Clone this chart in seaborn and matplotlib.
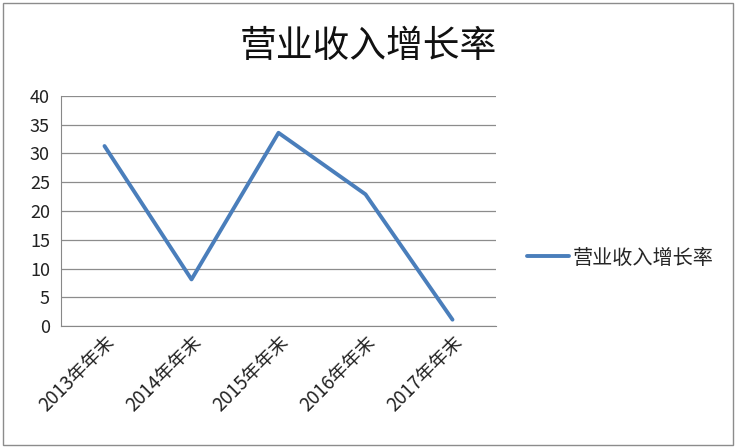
import pandas as pd
import matplotlib.pyplot as plt
import seaborn as sns
from matplotlib.patches import Rectangle

# Données
annees = ['2013年年末', '2014年年末', '2015年年末', '2016年年末', '2017年年末']
croissance = [31.3, 8.1, 33.6, 22.9, 1.1]
serie = '营业收入增长率'

df = pd.DataFrame({'annee': annees, 'taux': croissance})

sns.set_style('white')
plt.rcParams['font.family'] = ['Noto Sans CJK SC', 'DejaVu Sans']

fig = plt.figure(figsize=(7.36, 4.48), dpi=100)
ax = fig.add_axes([61 / 736, 1 - 326 / 448, (496 - 61) / 736, (326 - 96) / 448])

# bordure extérieure du graphique
fig.patches.append(Rectangle((3 / 736, 3 / 448), 730 / 736, 442 / 448, transform=fig.transFigure,
                             fill=False, edgecolor='#8c8c8c', linewidth=1))

x = list(range(len(annees)))
sns.lineplot(x=x, y=df['taux'], ax=ax, color='#4a7ebb', linewidth=2.8, label=serie)

ax.set_xlim(-0.5, len(annees) - 0.5)
ax.set_ylim(0, 40)
ax.set_yticks(range(0, 41, 5))
ax.set_xticks([i - 0.5 for i in range(len(annees) + 1)], minor=False)
ax.set_xticklabels([])
ax.set_xticks(x, minor=True)
ax.set_xticklabels(annees, minor=True, rotation=45, ha='right', rotation_mode='anchor',
                   fontsize=13.5, color='#222222')
ax.tick_params(axis='x', which='minor', length=0, pad=4)
ax.tick_params(axis='x', which='major', length=5, color='#888888', direction='out')
ax.tick_params(axis='y', length=5, color='#888888', direction='out', labelsize=13,
               labelcolor='#222222', pad=3)
ax.grid(axis='y', color='#8c8c8c', linewidth=0.9)
ax.set_axisbelow(True)
for s in ['top', 'right']:
    ax.spines[s].set_visible(False)
ax.spines['left'].set_color('#888888')
ax.spines['bottom'].set_color('#888888')
ax.set_xlabel('')
ax.set_ylabel('')

fig.text(0.5, 1 - 47 / 448, serie, ha='center', va='center', fontsize=26.5, color='#111111')

ax.legend(loc='center left', bbox_to_anchor=((519 - 61) / (496 - 61), (326 - 258) / (326 - 96)),
          frameon=False, fontsize=14.5, handlelength=2.1, handletextpad=0.15, borderaxespad=0)

fig.savefig('out.png', dpi=100)
